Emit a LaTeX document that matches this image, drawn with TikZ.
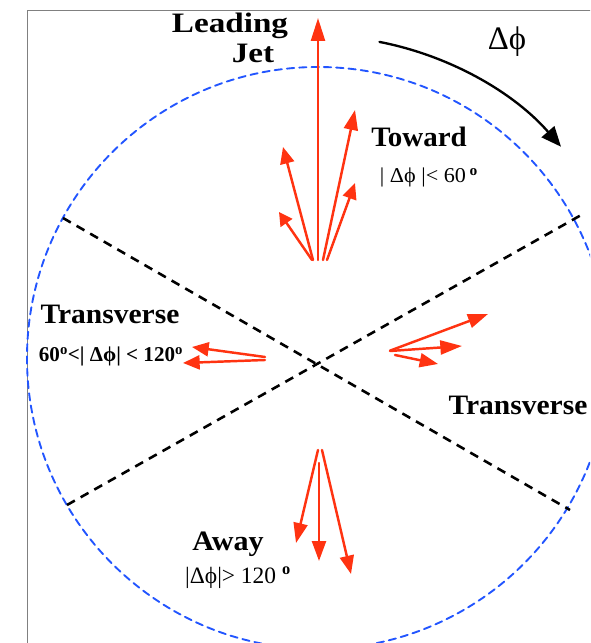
\documentclass[tikz,border=0pt]{standalone}
\usepackage{fontspec}
\setmainfont{Liberation Serif}
\usetikzlibrary{arrows.meta,calc}
\definecolor{jetred}{RGB}{255,51,17}
\definecolor{ringblue}{RGB}{34,85,255}
\definecolor{framegray}{RGB}{128,128,128}

\begin{document}
\begin{tikzpicture}[line cap=round,line join=round,
  track/.style={draw=jetred,line width=2.1pt,-{Triangle[length=#1,width=0.42cm]}},
  track/.default=0.6cm,
  ring/.style={draw=ringblue,line width=1.6pt,dash pattern=on 0.22cm off 0.15cm},
  sector/.style={line width=2.2pt,line cap=butt,dash pattern=on 0.27cm off 0.2cm},
  region/.style={font=\bfseries\fontsize{24}{28}\selectfont,inner sep=0pt},
  cut/.style={font=\fontsize{18}{21}\selectfont,inner sep=0pt}]
  \clip (-9.54,-8.43) rectangle (8.16,10.86);
  \coordinate (O) at (0,0);
  \coordinate (C) at (0,0.12);
  \coordinate (T) at (0,3.06);
  \coordinate (L) at (-1.59,0.10);
  \coordinate (R) at (2.16,0.34);
  \coordinate (A) at (0.06,-2.64);
  % frame and regions
  \draw[framegray,line width=0.8pt] (-8.73,-8.43) -- (-8.73,10.56) -- (8.16,10.56);
  \draw[ring] (C) circle (8.73);
  \draw[sector] (-7.65,4.32) -- (7.56,-4.44);
  \draw[sector] (-7.53,-4.29) -- (7.95,4.44);
  \draw[line width=2pt,-{Triangle[length=0.6cm,width=0.5cm]}] (C) ++(79:9.66) arc (79:41:9.66);
  % toward
  \draw[track=0.69cm] (T) -- (0,10.32);
  \draw[track] ($(T)+(0.15,0)$) -- (1.11,7.56);
  \draw[track=0.5cm] ($(T)+(-0.15,0)$) -- (-1.05,6.45);
  \draw[track=0.48cm] ($(T)+(0.27,0)$) -- (1.11,5.37);
  \draw[track=0.4cm] ($(T)+(-0.18,0)$) -- (-1.17,4.50);
  % transverse
  \draw[track=0.5cm] ($(L)+(0,0.05)$) -- (-3.78,0.45);
  \draw[track=0.5cm] ($(L)+(0,-0.04)$) -- (-4.05,-0.03);
  \draw[track] (R) -- (5.10,1.44);
  \draw[track=0.65cm] ($(R)+(0,-0.01)$) -- (4.32,0.48);
  \draw[track=0.55cm] ($(R)+(0.15,-0.13)$) -- (3.60,-0.06);
  % away
  \draw[track] ($(A)+(-0.06,0)$) -- (-0.66,-5.43);
  \draw[track] ($(A)+(-0.03,-0.39)$) -- (0.03,-5.97);
  \draw[track=0.55cm] ($(A)+(0.06,0)$) -- (0.99,-6.36);
  % labels
  \node[region,xscale=1.18,anchor=base] (leading) at (-2.64,9.87) {Leading};
  \node[region,xscale=1.18,anchor=base] (jet) at (-1.95,8.97) {Jet};
  \node[anchor=base,inner sep=0pt,font=\fontsize{28}{32}\selectfont] (dphi) at (5.67,9.36) {Δϕ};
  \node[region,xscale=1.03,anchor=base] (toward) at (3.03,6.45) {Toward};
  \node[cut,xscale=1.05,anchor=base] (towardcut) at (3.33,5.37) {| Δϕ |< 60\,\textsuperscript{\textbf{o}}};
  \node[region,xscale=1.05,anchor=base] (transl) at (-6.24,1.14) {Transverse};
  \node[cut,font=\bfseries\fontsize{18}{21}\selectfont,anchor=base] (translcut) at (-6.21,0) {60\textsuperscript{o}<| Δϕ| < 120\textsuperscript{o}};
  \node[region,xscale=1.05,anchor=base] (transr) at (6.0,-1.59) {Transverse};
  \node[region,xscale=1.07,anchor=base] (away) at (-2.7,-5.64) {Away};
  \node[cut,font=\fontsize{20}{24}\selectfont,anchor=base] (awaycut) at (-2.4,-6.63) {|Δϕ|> 120 \textsuperscript{\textbf{o}}};
\end{tikzpicture}
\end{document}
